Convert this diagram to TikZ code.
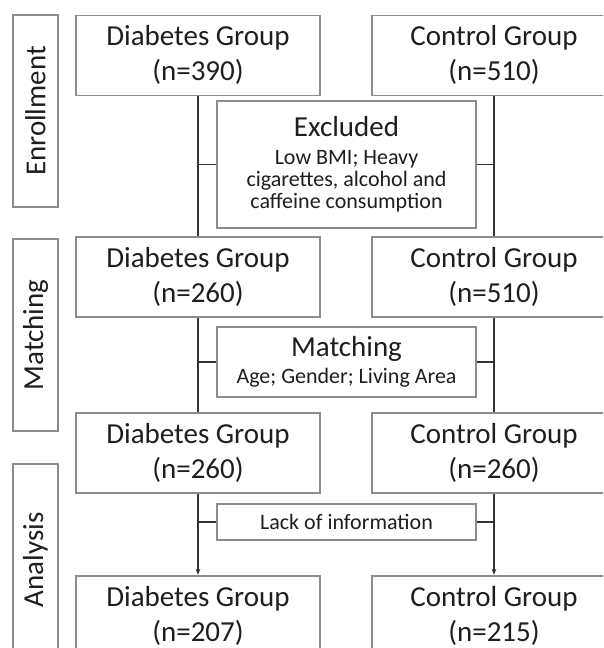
\documentclass[tikz,border=0pt]{standalone}
\usepackage{fontspec}
\setmainfont{Carlito}
\usetikzlibrary{arrows.meta,calc}
\definecolor{boxgray}{HTML}{8C8C8C}
\definecolor{linegray}{HTML}{333333}
\definecolor{txtgray}{HTML}{1E1E1E}
\newcommand{\bigfs}{\fontsize{29}{35}\selectfont}
\newcommand{\smallfs}{\fontsize{22}{22}\selectfont}

\begin{document}
\begin{tikzpicture}[x=1pt,y=-1pt,text=txtgray,
  grp/.style={draw=boxgray,line width=1.2pt,minimum width=244pt,minimum height=80pt,
    align=center,inner sep=0pt,font=\bigfs},
  phase/.style={draw=boxgray,line width=1.2pt,rotate=90,minimum width=192pt,
    minimum height=45pt,inner sep=0pt,font=\bigfs},
  note/.style={draw=boxgray,line width=1.2pt,minimum width=259pt,align=center,
    inner sep=0pt,font=\smallfs},
  flow/.style={draw=linegray,line width=1.5pt}]
\clip (0,0) rectangle (603,648);

% phases on the left
\node[phase] (enr) at (35.5,111) {Enrollment};
\node[phase] (mat) at (35.5,335) {Matching};
\node[phase] (ana) at (35.5,560) {Analysis};

% the two groups, one row per stage
\foreach \i/\y/\dn/\cn in {1/55.3/390/510,2/277/260/510,3/453/260/260,4/616/207/215}{
  \node[grp] (d\i) at (198,\y) {Diabetes Group\\(n=\dn)};
  \node[grp] (c\i) at (494,\y) {Control Group\\(n=\cn)};
}

% boxes between the rows
\node[note,minimum height=127pt] (excl) at (346.5,164.5)
  {{\fontsize{29}{29}\selectfont Excluded}\\[6pt]Low BMI; Heavy\\
   cigarettes, alcohol and\\caffeine consumption};
\node[note,minimum height=70pt] (match) at (346.5,362)
  {{\fontsize{29}{29}\selectfont Matching}\\[5pt]Age; Gender; Living Area};
\node[note,minimum height=36pt] (lack) at (346.5,522) {Lack of information};

% vertical flow
\draw[flow] (d1) -- (d2);
\draw[flow] (d2) -- (d3);
\draw[flow,-{Latex[length=6pt,width=5pt]}] (d3) -- (d4);
\draw[flow] (c1) -- (c2);
\draw[flow] (c2) -- (c3);
\draw[flow,-{Latex[length=6pt,width=5pt]}] (c3) -- (c4);

% side branches
\foreach \n in {excl,match,lack}{
  \draw[flow] (\n.west) -- (\n.west -| d1.south);
  \draw[flow] (\n.east) -- (\n.east -| c1.south);
}
\end{tikzpicture}
\end{document}
